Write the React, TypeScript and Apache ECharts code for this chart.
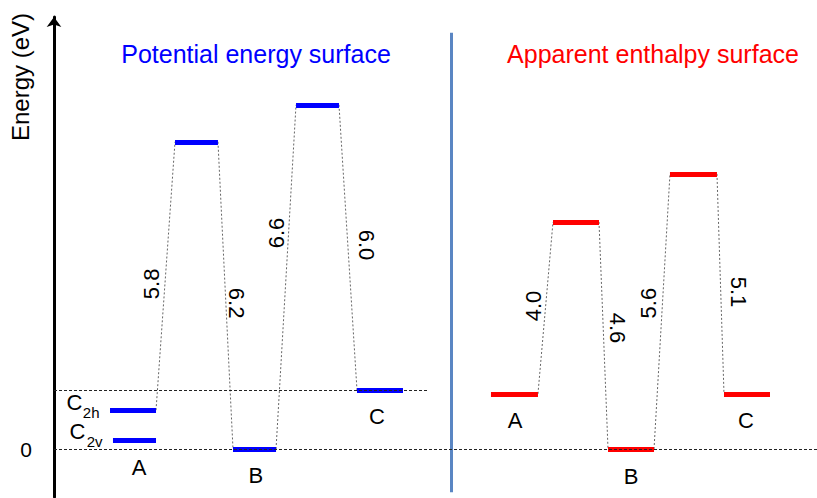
import React, { useEffect, useRef } from 'react';
import * as echarts from 'echarts';

const FONT = '"Liberation Sans", Arial, Helvetica, sans-serif';

// ---- Potential energy surface (blue) ----
const pesStates = ['C2h', 'C2v', 'TS1', 'B', 'TS2', 'C'];
const pesEnergy = [0.81, 0.19, 6.4, 0, 7.17, 1.23];
const pesPath = [0, 2, 3, 4, 5];
const pesBarriers = ['5.8', '6.2', '6.6', '6.0'];
const pesLetters = ['A', 'B', 'C'];

// ---- Apparent enthalpy surface (red) ----
const aesStates = ['A', 'TS1', 'B', 'TS2', 'C'];
const aesEnergy = [1.15, 4.73, 0, 5.73, 1.15];
const aesPath = [0, 1, 2, 3, 4];
const aesBarriers = ['4.0', '4.6', '5.6', '5.1'];
const aesLetters = ['A', 'B', 'C'];

const yTickLabels = ['0'];

// ---- layout along the (schematic) reaction coordinate ----
const pesStart = [7.34, 7.73, 15.86, 23.46, 31.72, 39.71];
const pesEnd = [13.37, 13.37, 21.49, 29.1, 37.35, 45.74];
const aesStart = [57.27, 65.4, 72.61, 80.73, 87.81];
const aesEnd = [63.43, 71.43, 78.64, 86.89, 93.84];
const pesBarrierX = [12.84, 23.98, 29.1, 41.02];
const pesBarrierY = [3.44, 3.04, 4.5, 4.25];
const aesBarrierX = [62.78, 73.79, 77.98, 89.65];
const aesBarrierY = [2.98, 2.52, 3.04, 3.27];
const pesLetterX = [11.14, 26.47, 42.33];
const pesLetterY = [-0.375, -0.56, 0.67];
const aesLetterX = [60.42, 75.62, 90.69];
const aesLetterY = [0.6, -0.58, 0.6];
const separatorX = 52.03;
const separatorY = [-0.9, 8.67];
const upperRefEnd = 49.0;

const BLUE = '#0000ff';
const RED = '#ff0000';

function levelData(start: number[], end: number[], energy: number[]) {
  return energy.map((e, i) => ({ coords: [[start[i], e], [end[i], e]] }));
}
function connectorData(path: number[], start: number[], end: number[], energy: number[]) {
  const out: any[] = [];
  for (let k = 0; k < path.length - 1; k++) {
    const a = path[k];
    const b = path[k + 1];
    out.push({ coords: [[end[a], energy[a]], [start[b], energy[b]]] });
  }
  return out;
}

const noBorder = { textBorderWidth: 0, textBorderColor: 'transparent', textShadowBlur: 0 };
const plainText = { fontSize: 22, fontFamily: FONT, color: '#000', opacity: 1, ...noBorder };

export default function App() {
  const ref = useRef<HTMLDivElement>(null);
  useEffect(() => {
    if (!ref.current) return;
    document.body.style.margin = '0';
    const chart = echarts.init(ref.current, undefined, { renderer: 'svg' });

    const labelData: any[] = [];
    const barrierLabel = (txt: string, x: number, y: number, k: number) => ({
      value: [x, y],
      label: {
        show: true,
        formatter: txt,
        position: 'inside',
        rotate: k % 2 === 0 ? 90 : -90,
        ...plainText,
      },
    });
    pesBarriers.forEach((t, k) => labelData.push(barrierLabel(t, pesBarrierX[k], pesBarrierY[k], k)));
    aesBarriers.forEach((t, k) => labelData.push(barrierLabel(t, aesBarrierX[k], aesBarrierY[k], k)));
    const letter = (txt: string, x: number, y: number) => ({
      value: [x, y],
      label: { show: true, formatter: txt, position: 'inside', ...plainText },
    });
    pesLetters.forEach((t, k) => labelData.push(letter(t, pesLetterX[k], pesLetterY[k])));
    aesLetters.forEach((t, k) => labelData.push(letter(t, aesLetterX[k], aesLetterY[k])));
    // symmetry labels C2h / C2v (main letter + subscript)
    [0, 1].forEach((i) => {
      const name = pesStates[i];
      labelData.push({
        value: [pesStart[i], pesEnergy[i]],
        label: { show: true, position: 'left', distance: 27, offset: [0, -8], formatter: name[0], ...plainText },
      });
      labelData.push({
        value: [pesStart[i], pesEnergy[i]],
        label: { show: true, position: 'left', distance: 10, offset: [0, 2], formatter: name.slice(1), ...plainText, fontSize: 15 },
      });
    });

    const option: any = {
      animation: false,
      backgroundColor: '#fff',
      grid: { left: 54, right: 0, top: 17, bottom: 1, containLabel: false },
      xAxis: { type: 'value', min: 0, max: 100, show: false },
      yAxis: {
        type: 'value',
        min: -1,
        max: 9,
        interval: 1,
        axisLine: {
          show: true,
          onZero: false,
          symbol: ['none', 'arrow'],
          symbolSize: [11, 10],
          lineStyle: { color: '#000', width: 3 },
        },
        axisTick: { show: false },
        splitLine: { show: false },
        axisLabel: {
          margin: 22,
          fontSize: 21,
          fontFamily: FONT,
          color: '#000',
          formatter: (v: number) => (v === 0 ? yTickLabels[0] : ''),
        },
      },
      graphic: [
        {
          type: 'text',
          x: 20,
          y: 77,
          rotation: Math.PI / 2,
          style: { text: 'Energy (eV)', fontSize: 24, fontFamily: FONT, fill: '#000', align: 'center', verticalAlign: 'middle' },
        },
        {
          type: 'text',
          x: 256,
          y: 54,
          style: { text: 'Potential energy surface', fontSize: 25, fontFamily: FONT, fill: BLUE, align: 'center', verticalAlign: 'middle' },
        },
        {
          type: 'text',
          x: 653,
          y: 54,
          style: { text: 'Apparent enthalpy surface', fontSize: 25, fontFamily: FONT, fill: RED, align: 'center', verticalAlign: 'middle' },
        },
      ],
      series: [
        {
          type: 'lines',
          coordinateSystem: 'cartesian2d',
          silent: true,
          z: 1,
          lineStyle: { color: '#5a86c3', width: 3, opacity: 1 },
          data: [{ coords: [[separatorX, separatorY[0]], [separatorX, separatorY[1]]] }],
        },
        {
          type: 'lines',
          coordinateSystem: 'cartesian2d',
          silent: true,
          z: 2,
          lineStyle: { color: '#666', width: 1, type: [2, 2], opacity: 1 },
          data: [
            ...connectorData(pesPath, pesStart, pesEnd, pesEnergy),
            ...connectorData(aesPath, aesStart, aesEnd, aesEnergy),
          ],
        },
        {
          type: 'lines',
          coordinateSystem: 'cartesian2d',
          silent: true,
          z: 3,
          lineStyle: { color: BLUE, width: 5, opacity: 1 },
          data: levelData(pesStart, pesEnd, pesEnergy),
        },
        {
          type: 'lines',
          coordinateSystem: 'cartesian2d',
          silent: true,
          z: 3,
          lineStyle: { color: RED, width: 5, opacity: 1 },
          data: levelData(aesStart, aesEnd, aesEnergy),
        },
        {
          type: 'lines',
          coordinateSystem: 'cartesian2d',
          silent: true,
          z: 4,
          lineStyle: { color: '#222', width: 1, type: [3, 2], opacity: 1 },
          data: [
            { coords: [[0, 0], [100, 0]] },
            { coords: [[0, pesEnergy[5]], [upperRefEnd, pesEnergy[5]]] },
          ],
        },
        {
          type: 'scatter',
          silent: true,
          z: 5,
          symbolSize: 1,
          itemStyle: { color: 'transparent' },
          data: labelData,
        },
      ],
    };
    chart.setOption(option);
    return () => chart.dispose();
  }, []);
  return <div ref={ref} style={{ width: 817, height: 498 }} />;
}
